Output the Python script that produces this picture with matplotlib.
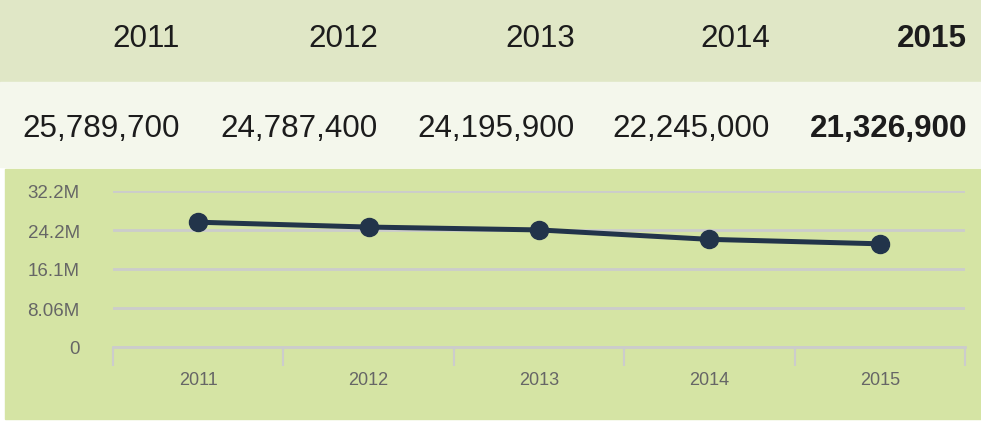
import matplotlib.pyplot as plt
from matplotlib.patches import Rectangle

plt.rcParams['font.family'] = ['Liberation Sans', 'DejaVu Sans']

# ── Данные ────────────────────────────────────────────────────────────────────
years = ['2011', '2012', '2013', '2014', '2015']
values = [25789700, 24787400, 24195900, 22245000, 21326900]
y_ticks = [0, 8.06e6, 16.12e6, 24.18e6, 32.24e6]
y_tick_labels = ['0', '8.06M', '16.1M', '24.2M', '32.2M']

W, H = 981, 427
fig = plt.figure(figsize=(W / 100, H / 100), dpi=100)
fig.patch.set_facecolor('white')


def band(x0, y0, x1, y1, color):
    # координаты в пикселях, y сверху вниз
    fig.patches.append(Rectangle((x0 / W, 1 - y1 / H), (x1 - x0) / W, (y1 - y0) / H,
                                 transform=fig.transFigure, color=color, zorder=-5))


band(0, 0, W, 83, '#e0e7c6')
band(0, 83, W, 168, '#f4f7ec')
band(5, 170, W, 420, '#d5e4a4')

# ── Таблица сверху ────────────────────────────────────────────────────────────
right_edges = [180, 378, 575, 770, 967]
for i, (yr, v) in enumerate(zip(years, values)):
    weight = 'bold' if i == len(years) - 1 else 'normal'
    fig.text(right_edges[i] / W, 1 - 39 / H, yr, ha='right', va='center',
             fontsize=22.6, color='#1c1c1c', fontweight=weight)
    fig.text(right_edges[i] / W, 1 - 129 / H, f'{v:,}', ha='right', va='center',
             fontsize=22.6, color='#1c1c1c', fontweight=weight)

# ── График ────────────────────────────────────────────────────────────────────
ax_l, ax_r = 113, 965
ax_top, ax_bot = 192, 348
ax = fig.add_axes([ax_l / W, 1 - ax_bot / H, (ax_r - ax_l) / W, (ax_bot - ax_top) / H])
ax.set_zorder(2)
ax.patch.set_alpha(0)

x = [i + 0.5 for i in range(len(years))]
ax.plot(x, values, '-o', color='#22344a', lw=3.6, ms=13, zorder=3, clip_on=False)

ax.set_xlim(0, len(years))
ax.set_ylim(0, y_ticks[-1])
ax.set_yticks(y_ticks)
ax.set_yticklabels(y_tick_labels, va='center_baseline')
ax.set_xticks(x)
ax.set_xticklabels(years)
ax.set_xticks(range(len(years) + 1), minor=True)

ax.grid(axis='y', color='#cccccc', lw=2)
ax.set_axisbelow(True)
for s in ['top', 'right', 'left']:
    ax.spines[s].set_visible(False)
ax.spines['bottom'].set_color('#cccccc')
ax.spines['bottom'].set_linewidth(2)

ax.tick_params(axis='y', length=0, pad=24, labelsize=13.5, labelcolor='#666666')
ax.tick_params(axis='x', which='major', length=0, pad=17, labelsize=13, labelcolor='#666666')
ax.tick_params(axis='x', which='minor', length=14, width=1.5, color='#cccccc')

fig.savefig('out.png', dpi=100)
